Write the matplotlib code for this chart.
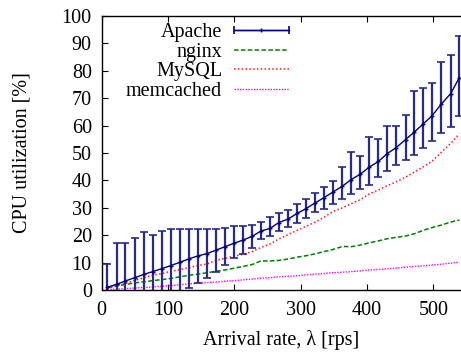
import numpy as np
import matplotlib
matplotlib.use('Agg')
import matplotlib.pyplot as plt
from matplotlib.legend_handler import HandlerErrorbar

# arrival rate [rps]
rate = [9, 23, 36, 50, 64, 77, 91, 104, 118, 132, 145, 159, 172, 186, 199, 213,
        227, 240, 254, 267, 281, 295, 308, 322, 335, 349, 363, 376, 390, 403,
        417, 430, 444, 458, 471, 485, 498, 512, 526, 539]

apache = [1.0, 2.1, 3.3, 4.5, 5.7, 6.7, 7.8, 8.9, 10.1, 11.4, 12.4, 13.3, 14.5,
          15.8, 17.0, 18.2, 19.6, 21.5, 22.5, 24.6, 25.9, 28.0, 29.7, 31.8, 33.7,
          35.8, 37.9, 40.3, 42.3, 44.8, 46.9, 49.7, 52.0, 54.9, 57.6, 60.7, 63.6,
          67.9, 71.7, 77.5]
apache_hi = [9.5, 17.0, 17.3, 19.0, 21.2, 20.2, 21.5, 22.1, 22.1, 22.4, 22.2, 22.4,
             22.3, 22.8, 23.2, 23.3, 23.8, 24.8, 26.7, 28.1, 29.1, 31.5, 33.3, 35.5,
             37.6, 39.7, 44.8, 50.3, 48.8, 56.0, 55.2, 59.9, 59.9, 63.7, 72.8, 73.6,
             75.5, 83.3, 85.7, 92.7]
apache_lo = [-3, -3, -3, -3, -3, -3, -3, -3, -3, 0.6, 2.4, 4.5, 6.7, 9.3, 11.5,
             13.3, 15.5, 18.5, 19.7, 21.5, 23.0, 24.6, 26.3, 28.3, 29.5, 31.4, 33.3,
             35.0, 36.9, 38.4, 41.1, 43.3, 45.5, 47.3, 49.2, 51.8, 54.5, 57.3, 59.6,
             63.6]

nginx = [0.8, 1.5, 2.0, 2.6, 3.0, 3.4, 3.8, 4.2, 4.8, 5.4, 5.8, 6.3, 6.8, 7.3, 7.9,
         8.6, 9.3, 10.6, 10.6, 10.8, 11.3, 12.0, 12.5, 13.2, 14.0, 14.8, 15.9, 15.8,
         16.4, 17.2, 17.9, 18.7, 19.2, 19.7, 20.5, 21.8, 22.8, 23.7, 24.8, 25.5]

mysql = [0.8, 1.6, 2.4, 3.5, 4.4, 5.4, 6.0, 6.8, 7.4, 8.2, 8.9, 9.5, 10.8, 11.5,
         12.3, 13.0, 14.0, 15.5, 16.8, 18.6, 20.2, 21.8, 23.2, 24.8, 26.5, 28.7,
         30.0, 31.5, 33.0, 35.0, 36.5, 38.0, 39.5, 41.2, 43.0, 45.0, 47.0, 50.3,
         53.5, 57.0]

memcached = [0.2, 0.3, 0.5, 0.7, 0.9, 1.1, 1.4, 1.6, 1.9, 2.2, 2.5, 2.7, 2.9, 3.2,
             3.4, 3.7, 4.0, 4.3, 4.5, 4.8, 5.0, 5.2, 5.5, 5.8, 6.0, 6.3, 6.5, 6.7,
             7.0, 7.3, 7.5, 7.7, 8.0, 8.3, 8.6, 8.8, 9.1, 9.4, 9.8, 10.2]

plt.rcParams['font.family'] = ['Liberation Serif', 'DejaVu Serif']
plt.rcParams['font.size'] = 14.5

fig = plt.figure(figsize=(4.61, 3.53), dpi=100)
ax = fig.add_axes([0.2202, 0.1785, 0.7798, 0.7762])

navy = '#000080'
y = np.array(apache)
yerr = [y - np.array(apache_lo), np.array(apache_hi) - y]
ax.errorbar(rate, apache, yerr=yerr, color=navy, ecolor='#2a2a8a',
            elinewidth=1.6, capsize=3, capthick=1.2, lw=1.0,
            marker='+', markersize=3.5, zorder=4)
l_ng, = ax.plot(rate, nginx, color='#008000', lw=1.1, ls=(0, (3, 1.5)), label='nginx')
l_my, = ax.plot(rate, mysql, color='#ff1a1a', lw=1.1, ls=(0, (1, 1.5)), label='MySQL')
l_mc, = ax.plot(rate, memcached, color='#ff00ff', lw=1.0, ls=(0, (1, 1)), label='memcached')

# legend proxy: horizontal bar with caps, like gnuplot's key sample
proxy = ax.errorbar([np.nan], [np.nan], xerr=[1], color=navy, lw=1.0,
                    capsize=3, capthick=1.2, marker='+', markersize=3.5,
                    label='Apache')

ax.set_xlim(0, 541.5)
ax.set_ylim(0, 100)
ax.set_xticks(range(0, 501, 100))
ax.set_yticks(range(0, 101, 10))
ax.tick_params(direction='in', top=True, right=False, length=4, width=0.8)
ax.tick_params(axis='x', pad=8)
ax.tick_params(axis='y', pad=7)
ax.spines['right'].set_visible(False)
for s in ['left', 'bottom', 'top']:
    ax.spines[s].set_linewidth(1.0)

ax.set_xlabel('Arrival rate, λ [rps]', labelpad=7)
ax.set_ylabel('CPU utilization [%]', labelpad=22)

ax.legend([proxy, l_ng, l_my, l_mc], ['Apache', 'nginx', 'MySQL', 'memcached'],
          handler_map={proxy: HandlerErrorbar(xerr_size=1.35)},
          loc='upper left', bbox_to_anchor=(0.068, 0.975), frameon=False,
          markerfirst=False, borderpad=0, borderaxespad=0, handlelength=2.7,
          handletextpad=0.6, labelspacing=0.03)

fig.savefig('out.png', dpi=100)
